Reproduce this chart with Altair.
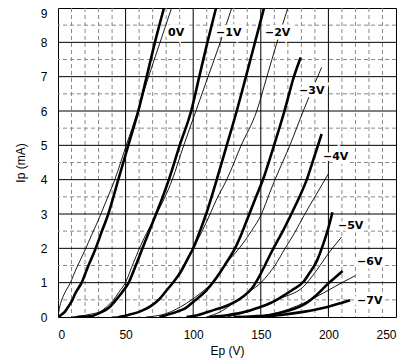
import altair as alt
import pandas as pd

# ---- data ----
series_names = ["0V", "-1V", "-2V", "-3V", "-4V", "-5V", "-6V", "-7V"]

thick_V = {
    "0V": [0, 2, 5, 7.6, 10, 13, 17.5, 22, 27.4, 32, 37.2, 44.6, 52, 59.4, 65.6, 71.7, 78.4],
    "-1V": [14, 20, 25, 31, 38.5, 44, 48, 52, 57, 62.5, 67, 72, 77, 82, 90, 98.5, 104.5, 110.5, 116.9],
    "-2V": [45, 52, 60, 68, 75, 80.4, 86, 91.5, 96, 100, 105, 110, 114, 117.4, 124.8, 132.2, 139, 145.7, 152.4],
    "-3V": [75, 87.7, 94, 100, 108.7, 118.6, 124, 130.9, 136, 141, 146, 152.5, 159.8, 167.5, 174.5, 179.5],
    "-4V": [95, 103.8, 115, 123, 130.9, 137, 143.3, 148, 153, 157, 161, 166, 171.6, 177.7, 184, 189, 195],
    "-5V": [112, 125, 138.3, 148, 156.8, 165, 173, 181.4, 186, 191.3, 196, 199.9, 203],
    "-6V": [130, 145, 156.8, 170, 181.4, 190, 200, 205, 210.5],
    "-7V": [150, 165, 181.4, 190, 200, 208, 216],
}
thick_I = {
    "0V": [0, 0.05, 0.15, 0.3, 0.45, 0.7, 1.0, 1.45, 1.95, 2.45, 3.0, 4.0, 5.0, 6.0, 7.0, 8.0, 9.0],
    "-1V": [0, 0.01, 0.03, 0.12, 0.3, 0.55, 0.75, 0.98, 1.45, 2.0, 2.45, 2.95, 3.45, 4.0, 5.0, 6.0, 7.0, 8.0, 9.0],
    "-2V": [0, 0.06, 0.15, 0.3, 0.52, 0.78, 1.05, 1.36, 1.7, 2.0, 2.5, 3.05, 3.55, 4.0, 5.0, 6.0, 7.0, 8.0, 9.0],
    "-3V": [0, 0.15, 0.25, 0.44, 0.73, 1.22, 1.55, 2.0, 2.45, 2.95, 3.45, 4.1, 5.0, 6.0, 7.0, 7.56],
    "-4V": [0, 0.06, 0.2, 0.3, 0.44, 0.6, 0.83, 1.12, 1.5, 1.82, 2.12, 2.48, 2.92, 3.42, 4.0, 4.6, 5.33],
    "-5V": [0, 0.05, 0.15, 0.27, 0.4, 0.58, 0.78, 1.02, 1.28, 1.62, 2.1, 2.58, 3.05],
    "-6V": [0, 0.02, 0.06, 0.18, 0.35, 0.6, 0.98, 1.15, 1.34],
    "-7V": [0, 0.06, 0.15, 0.21, 0.3, 0.39, 0.49],
}
thin_V = {
    "0V": [0, 1, 2.7, 5, 8.9, 14, 20, 25, 29.8, 34.8, 42, 50.5, 59, 67, 75.5, 84],
    "-1V": [10, 15, 20, 25, 31, 36, 40.9, 45, 49.6, 56, 63, 73, 84.5, 93, 102, 111, 120, 128.5],
    "-2V": [40, 50, 60, 70, 78, 85, 92, 100, 106, 112.5, 117, 124.8, 135.5, 147, 154.5, 162, 170],
    "-3V": [65, 80, 95, 105, 114, 123, 134, 143, 150.5, 156.8, 160.5, 171.5, 181.4, 195],
    "-4V": [110, 120, 130.9, 140, 150.6, 160.4, 168, 175, 182, 190, 200],
    "-5V": [125, 140, 150, 165, 181.4, 191.3, 200, 209.8],
    "-6V": [140, 160, 181.4, 200, 210, 219.7],
}
thin_I = {
    "0V": [0, 0.25, 0.49, 0.7, 0.98, 1.45, 1.95, 2.4, 2.82, 3.3, 4.0, 5.0, 6.0, 7.0, 8.0, 9.0],
    "-1V": [0, 0.02, 0.05, 0.09, 0.15, 0.3, 0.49, 0.72, 0.98, 1.6, 2.24, 3.0, 4.0, 5.0, 6.0, 7.0, 8.0, 9.0],
    "-2V": [0, 0.04, 0.15, 0.35, 0.65, 1.0, 1.45, 2.0, 2.45, 3.0, 3.4, 4.0, 5.0, 6.0, 7.0, 8.0, 9.0],
    "-3V": [0, 0.1, 0.4, 0.68, 1.0, 1.5, 2.0, 2.5, 3.0, 3.64, 4.0, 5.0, 6.0, 7.27],
    "-4V": [0, 0.15, 0.44, 0.7, 1.02, 1.5, 2.0, 2.45, 2.96, 3.5, 4.17],
    "-5V": [0, 0.15, 0.3, 0.55, 0.88, 1.36, 1.85, 2.33],
    "-6V": [0, 0.1, 0.4, 0.78, 1.0, 1.2],
}

label_text = ["0V", "\u22121V", "\u22122V", "\u22123V", "\u22124V", "\u22125V", "\u22126V", "\u22127V"]
label_V = [81.4, 116.9, 153.1, 178.3, 196.0, 207.1, 221.2, 221.2]
label_I = [8.28, 8.28, 8.28, 6.59, 4.65, 2.64, 1.61, 0.47]

x_ticks = [0, 50, 100, 150, 200, 250]
y_ticks = [0, 1, 2, 3, 4, 5, 6, 7, 8, 9]
x_major = [50, 100, 150, 200]
y_major = [1, 2, 3, 4, 5, 6, 7, 8]
x_minor = [10, 20, 30, 40, 60, 70, 80, 90, 110, 120, 130, 140, 160, 170, 180, 190, 210, 220, 230, 240]
y_minor = [0.5, 1.5, 2.5, 3.5, 4.5, 5.5, 6.5, 7.5, 8.5]

# ---- tables ----
rows = []
for kind, Vd, Id in (("thick", thick_V, thick_I), ("thin", thin_V, thin_I)):
    for s in series_names:
        if s not in Vd:
            continue
        for k, (v, i) in enumerate(zip(Vd[s], Id[s])):
            rows.append({"V": v, "I": i, "series": s, "kind": kind, "order": k})
curves = pd.DataFrame(rows)
labels = pd.DataFrame({"V": label_V, "I": label_I, "text": label_text})

FONT = "Liberation Sans"
xscale = alt.Scale(domain=[0, 250], nice=False, zero=False)
yscale = alt.Scale(domain=[0, 9], nice=False, zero=False)
xaxis = alt.Axis(values=x_ticks, title="Ep (V)", grid=False, ticks=False, domain=False,
                 labelPadding=12, titlePadding=5, labelFont=FONT, labelFontSize=12,
                 titleFont=FONT, titleFontSize=12, titleFontWeight="normal",
                 labelColor="black", titleColor="black")
yaxis = alt.Axis(values=y_ticks, title="Ip (mA)", grid=False, ticks=False, domain=False,
                 labelPadding=11, titlePadding=13, labelFont=FONT, labelFontSize=12,
                 labelBaseline=alt.condition("datum.value == 9", alt.value("top"), alt.value("middle")),
                 titleFont=FONT, titleFontSize=12, titleFontWeight="normal",
                 labelColor="black", titleColor="black")

X = lambda: alt.X("V:Q", scale=xscale, axis=xaxis)
Y = lambda: alt.Y("I:Q", scale=yscale, axis=yaxis)

xminor = alt.Chart(pd.DataFrame({"V": x_minor})).mark_rule(
    color="#8a8a8a", strokeWidth=1, strokeDash=[4, 3]).encode(x=X())
yminor = alt.Chart(pd.DataFrame({"I": y_minor})).mark_rule(
    color="#8a8a8a", strokeWidth=1, strokeDash=[4, 3]).encode(y=Y())
xmajor = alt.Chart(pd.DataFrame({"V": x_major})).mark_rule(
    color="black", strokeWidth=1).encode(x=X())
ymajor = alt.Chart(pd.DataFrame({"I": y_major})).mark_rule(
    color="black", strokeWidth=1).encode(y=Y())

thin = alt.Chart(curves[curves.kind == "thin"]).mark_line(
    color="black", strokeWidth=0.9, interpolate="monotone", clip=True).encode(
    x=X(), y=Y(), detail="series:N", order="order:Q")
thick = alt.Chart(curves[curves.kind == "thick"]).mark_line(
    color="black", strokeWidth=2.6, interpolate="monotone", clip=True).encode(
    x=X(), y=Y(), detail="series:N", order="order:Q")

halo = alt.Chart(labels).mark_text(
    align="left", baseline="middle", font="DejaVu Sans", fontSize=11, fontWeight="bold",
    stroke="white", strokeWidth=7, fill="white").encode(x=X(), y=Y(), text="text:N")
text = alt.Chart(labels).mark_text(
    align="left", baseline="middle", font="DejaVu Sans", fontSize=11, fontWeight="bold",
    color="black").encode(x=X(), y=Y(), text="text:N")

chart = alt.layer(xminor, yminor, xmajor, ymajor, thin, thick, halo, text).properties(
    width=338, height=309,
    autosize=alt.AutoSizeParams(type="none"),
    padding={"left": 50, "top": 0, "right": 3, "bottom": 46},
    background="white",
).configure_view(stroke="black", strokeWidth=1)

chart.save("out.html", embed_options={"renderer": "svg", "actions": False})
